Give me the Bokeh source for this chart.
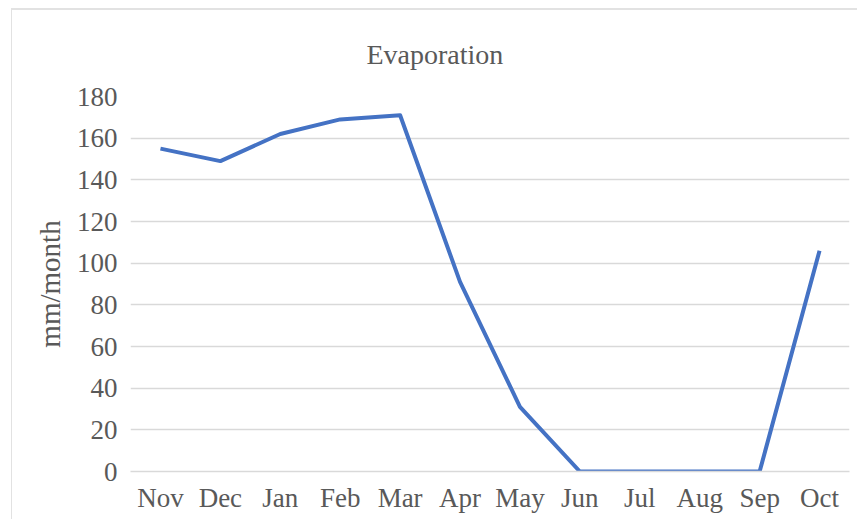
from bokeh.plotting import figure
from bokeh.models import FactorRange, FixedTicker, Title
from bokeh.embed import file_html
from bokeh.resources import INLINE

months = ["Nov", "Dec", "Jan", "Feb", "Mar", "Apr", "May", "Jun", "Jul", "Aug", "Sep", "Oct"]
evaporation = [155, 149, 162, 169, 171, 91, 31, 0, 0, 0, 0, 106]
y_ticks = [0, 20, 40, 60, 80, 100, 120, 140, 160, 180]

FONT = "Liberation Serif"
TEXT = "#595959"
GRID = "#d9d9d9"

p = figure(
    width=846, height=511,
    x_range=FactorRange(factors=months, range_padding=0),
    y_range=(0, 180),
    output_backend="svg", toolbar_location=None,
    min_border_left=118, min_border_right=9, min_border_top=86, min_border_bottom=50,
    margin=(8, 0, 0, 11),
    outline_line_color=None,
)
p.styles = {"border-top": "2px solid #e2e2e2", "border-left": "1px solid #e2e2e2"}

p.title = Title(text="Evaporation", align="left", offset=236, standoff=50,
                vertical_align="top",
                text_font=FONT, text_font_size="28px", text_font_style="normal",
                text_color=TEXT)

p.line(months, evaporation, line_color="#4472C4", line_width=4, line_join="round")

p.yaxis.ticker = FixedTicker(ticks=y_ticks)
p.yaxis.axis_label = "mm/month"
p.yaxis.axis_label_text_font = FONT
p.yaxis.axis_label_text_font_size = "29px"
p.yaxis.axis_label_text_font_style = "normal"
p.yaxis.axis_label_text_color = TEXT
p.yaxis.axis_label_standoff = 8
p.yaxis.axis_line_color = None
p.yaxis.major_tick_line_color = None
p.yaxis.minor_tick_line_color = None
p.yaxis.major_label_standoff = 7

p.xaxis.axis_line_color = GRID
p.xaxis.axis_line_width = 1.5
p.xaxis.major_tick_line_color = None
p.xaxis.major_label_standoff = 5

for ax in (p.xaxis, p.yaxis):
    ax.major_label_text_font = FONT
    ax.major_label_text_font_size = "27px"
    ax.major_label_text_color = TEXT

p.xgrid.grid_line_color = None
p.ygrid.grid_line_color = GRID
p.ygrid.grid_line_width = 1.5

open("out.html", "w").write(file_html(p, INLINE))
